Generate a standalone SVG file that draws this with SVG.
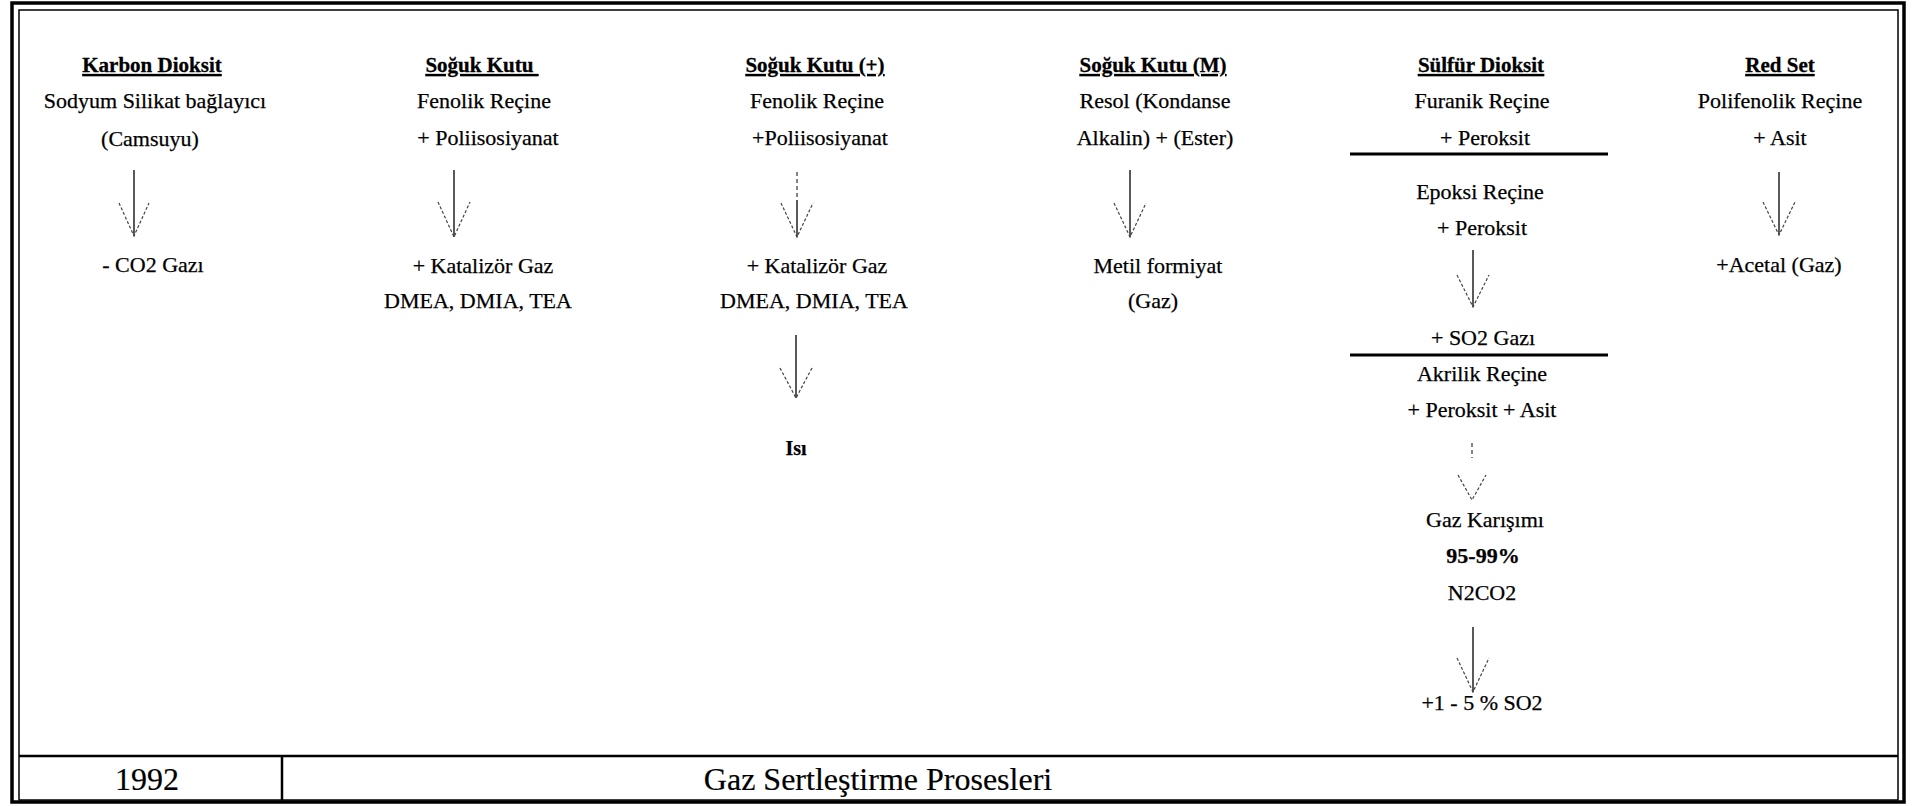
<svg xmlns="http://www.w3.org/2000/svg" width="1916" height="806" viewBox="0 0 1916 806">
<style>
  text { font-family: "Liberation Serif", "Times New Roman", serif; font-size: 22px; fill: #000; stroke: #000; stroke-width: 0.25; text-anchor: middle; }
  .title { font-weight: bold; font-size: 21px; text-decoration: underline; stroke-width: 0.3; }
  .bold { font-weight: bold; }
  .big { font-size: 32px; stroke-width: 0.2; }
  .frame { fill: none; stroke: #000; }
  .shaft { stroke: #000; stroke-width: 1.3; fill: none; }
  .shaft-dash { stroke: #333; stroke-width: 1.2; stroke-dasharray: 4 3; fill: none; }
  .arms { stroke: #444; stroke-width: 1.2; stroke-dasharray: 3 2; fill: none; }
  .sep { stroke: #000; stroke-width: 3; }
</style>
<rect width="1916" height="806" fill="#fff"/>

<g id="frame">
  <rect class="frame" x="12" y="3" width="1892" height="799" stroke-width="3.5"/>
  <rect class="frame" x="19" y="10" width="1879" height="790" stroke-width="1.5"/>
  <line x1="19" y1="756" x2="1898" y2="756" stroke="#000" stroke-width="2.5"/>
  <line x1="282" y1="756" x2="282" y2="800" stroke="#000" stroke-width="2.5"/>
</g>

<g id="footer-year"><text class="big" x="147" y="790">1992</text></g>
<g id="footer-title"><text class="big" x="878" y="790">Gaz Sertleştirme Prosesleri</text></g>

<g id="col1-karbon-dioksit">
  <text class="title" x="152" y="72">Karbon Dioksit</text>
  <text x="155" y="108">Sodyum Silikat bağlayıcı</text>
  <text x="150" y="146">(Camsuyu)</text>
</g>
<g id="col1-out"><text x="153" y="272">- CO2 Gazı</text></g>

<g id="col2-soguk-kutu">
  <text class="title" x="482" y="72" style="white-space:pre">Soğuk Kutu </text>
  <text x="484" y="108">Fenolik Reçine</text>
  <text x="488" y="145">+ Poliisosiyanat</text>
</g>
<g id="col2-out">
  <text x="483" y="273">+ Katalizör Gaz</text>
  <text x="478" y="308">DMEA, DMIA, TEA</text>
</g>

<g id="col3-soguk-kutu-plus">
  <text class="title" x="815" y="72">Soğuk Kutu (+)</text>
  <text x="817" y="108">Fenolik Reçine</text>
  <text x="820" y="145">+Poliisosiyanat</text>
</g>
<g id="col3-out">
  <text x="817" y="273">+ Katalizör Gaz</text>
  <text x="814" y="308">DMEA, DMIA, TEA</text>
</g>
<g id="col3-heat"><text class="bold" x="796" y="455" style="font-size:20px">Isı</text></g>

<g id="col4-soguk-kutu-m">
  <text class="title" x="1153" y="72">Soğuk Kutu (M)</text>
  <text x="1155" y="108">Resol (Kondanse</text>
  <text x="1155" y="145">Alkalin) + (Ester)</text>
</g>
<g id="col4-out">
  <text x="1158" y="273">Metil formiyat</text>
  <text x="1153" y="308">(Gaz)</text>
</g>

<g id="col5-sulfur-dioksit">
  <text class="title" x="1481" y="72">Sülfür Dioksit</text>
  <text x="1482" y="108">Furanik Reçine</text>
  <text x="1485" y="145">+ Peroksit</text>
</g>
<g id="col5-epoksi">
  <text x="1480" y="199">Epoksi Reçine</text>
  <text x="1482" y="235">+ Peroksit</text>
</g>
<g id="col5-so2"><text x="1483" y="345">+ SO2 Gazı</text></g>
<g id="col5-akrilik">
  <text x="1482" y="381">Akrilik Reçine</text>
  <text x="1482" y="417">+ Peroksit + Asit</text>
</g>
<g id="col5-gaz-karisimi">
  <text x="1485" y="527">Gaz Karışımı</text>
  <text class="bold" x="1483" y="563">95-99%</text>
  <text x="1482" y="600">N2CO2</text>
</g>
<g id="col5-out"><text x="1482" y="710">+1 - 5 % SO2</text></g>

<g id="col6-red-set">
  <text class="title" x="1780" y="72">Red Set</text>
  <text x="1780" y="108">Polifenolik Reçine</text>
  <text x="1780" y="145">+ Asit</text>
</g>
<g id="col6-out"><text x="1779" y="272">+Acetal (Gaz)</text></g>

<g id="separators">
  <line class="sep" x1="1350" y1="154" x2="1608" y2="154"/>
  <line class="sep" x1="1350" y1="355" x2="1608" y2="355"/>
</g>

<g id="connectors">
  <line class="shaft" x1="134" y1="170" x2="134" y2="236"/>
  <path class="arms" d="M119,203 L134,236 L149,203"/>

  <line class="shaft" x1="454" y1="170" x2="454" y2="237"/>
  <path class="arms" d="M438,202 L454,237 L470,202"/>

  <line class="shaft-dash" x1="797" y1="172" x2="797" y2="200"/>
  <line class="shaft" x1="797" y1="200" x2="797" y2="237"/>
  <path class="arms" d="M781,203 L797,237 L813,203"/>

  <line class="shaft" x1="796" y1="335" x2="796" y2="398"/>
  <path class="arms" d="M780,368 L796,398 L812,368"/>

  <line class="shaft" x1="1130" y1="170" x2="1130" y2="237"/>
  <path class="arms" d="M1114,203 L1130,237 L1146,203"/>

  <line class="shaft" x1="1473" y1="250" x2="1473" y2="307"/>
  <path class="arms" d="M1457,275 L1473,307 L1489,275"/>

  <line class="shaft-dash" x1="1472" y1="443" x2="1472" y2="458"/>
  <path class="arms" d="M1458,475 L1472,500 L1486,475"/>

  <line class="shaft" x1="1473" y1="627" x2="1473" y2="692"/>
  <path class="arms" d="M1457,658 L1473,692 L1489,658"/>

  <line class="shaft" x1="1779" y1="172" x2="1779" y2="235"/>
  <path class="arms" d="M1763,202 L1779,235 L1795,202"/>
</g>
</svg>
